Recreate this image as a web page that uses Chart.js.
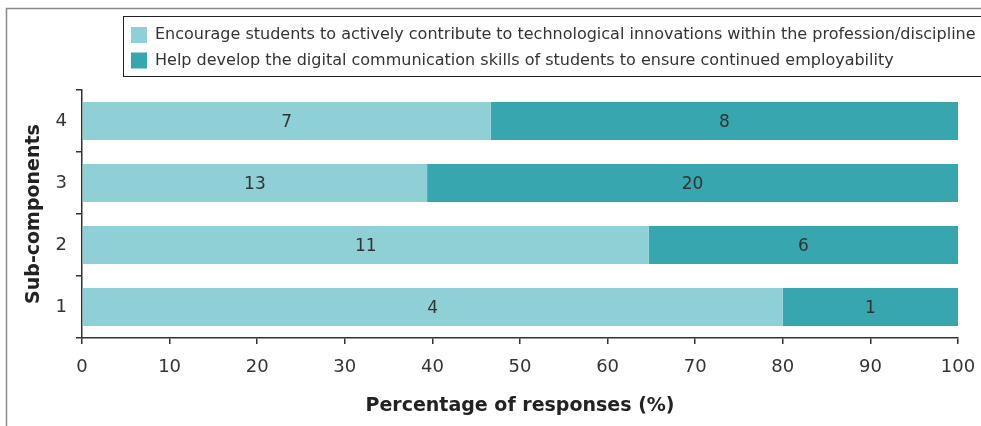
<!DOCTYPE html>
<html>
<head>
<meta charset="utf-8">
<script src="https://cdn.jsdelivr.net/npm/chart.js@4.4.1/dist/chart.umd.min.js"></script>
<style>
  html, body { margin: 0; padding: 0; background: #fff; }
  #wrap { width: 981px; height: 426px; position: relative; }
</style>
</head>
<body>
<div id="wrap"><canvas id="c" width="981" height="426"></canvas></div>
<script>
// Sub-components, listed top to bottom
const categories = ['4', '3', '2', '1'];
// Number of responses per sub-component
const encourageCounts = [7, 13, 11, 4];
const developCounts = [8, 20, 6, 1];
const seriesLabels = [
  'Encourage students to actively contribute to technological innovations within the profession/discipline',
  'Help develop the digital communication skills of students to ensure continued employability'
];
const xTicks = [0, 10, 20, 30, 40, 50, 60, 70, 80, 90, 100];

const LIGHT = '#8fd0d6';
const DARK = '#37a6af';
const TEXT = '#333333';
const FONT = "'DejaVu Sans', sans-serif";

// Share of responses (%) for each series
const totals = categories.map((_, i) => encourageCounts[i] + developCounts[i]);
const encouragePct = encourageCounts.map((v, i) => v / totals[i] * 100);
const developPct = developCounts.map((v, i) => v / totals[i] * 100);

// Outer frame and the boxed legend
const framePlugin = {
  id: 'frame',
  beforeDraw(chart) {
    const ctx = chart.ctx;
    ctx.save();
    ctx.strokeStyle = '#8a8a8a';
    ctx.lineWidth = 1.5;
    ctx.beginPath();
    ctx.moveTo(6.5, 426);
    ctx.lineTo(6.5, 8.5);
    ctx.lineTo(981, 8.5);
    ctx.stroke();
    ctx.restore();
  },
  afterDraw(chart) {
    const ctx = chart.ctx;
    ctx.save();
    ctx.strokeStyle = '#222';
    ctx.lineWidth = 1;
    ctx.strokeRect(123.5, 16.5, 1000, 60);
    const colors = [LIGHT, DARK];
    ctx.font = "16px " + FONT;
    ctx.textBaseline = 'middle';
    ctx.textAlign = 'left';
    seriesLabels.forEach((lbl, i) => {
      const cy = 35 + i * 25.5;
      ctx.fillStyle = colors[i];
      ctx.fillRect(131, cy - 8, 16, 16);
      ctx.fillStyle = TEXT;
      ctx.fillText(lbl, 155, cy);
    });
    ctx.restore();
  }
};

// Count labels in the middle of each bar segment
const countLabels = {
  id: 'countLabels',
  afterDatasetsDraw(chart) {
    const ctx = chart.ctx;
    const counts = [encourageCounts, developCounts];
    ctx.save();
    ctx.font = "17px " + FONT;
    ctx.fillStyle = TEXT;
    ctx.textAlign = 'center';
    ctx.textBaseline = 'middle';
    chart.data.datasets.forEach((ds, di) => {
      chart.getDatasetMeta(di).data.forEach((bar, i) => {
        const p = bar.getProps(['x', 'y', 'base'], true);
        ctx.fillText(String(counts[di][i]), (p.x + p.base) / 2, p.y + 1.5);
      });
    });
    ctx.restore();
  }
};

new Chart(document.getElementById('c'), {
  type: 'bar',
  data: {
    labels: categories,
    datasets: [
      { label: seriesLabels[0], data: encouragePct, backgroundColor: LIGHT,
        barPercentage: 0.61, categoryPercentage: 1 },
      { label: seriesLabels[1], data: developPct, backgroundColor: DARK,
        barPercentage: 0.61, categoryPercentage: 1 }
    ]
  },
  options: {
    indexAxis: 'y',
    responsive: false,
    animation: false,
    devicePixelRatio: 1,
    layout: { padding: { top: 90, right: 23, left: 0, bottom: 0 } },
    plugins: { legend: { display: false }, tooltip: { enabled: false } },
    scales: {
      x: {
        stacked: true,
        min: 0, max: 100,
        afterBuildTicks(scale) { scale.ticks = xTicks.map(v => ({ value: v })); },
        afterFit(scale) {
          scale.height = 88;
          scale.paddingLeft = 0;
          scale.paddingRight = 0;
        },
        border: { display: true, color: '#333', width: 1.5 },
        grid: { display: true, drawOnChartArea: false, drawTicks: true, tickLength: 6,
                color: '#333', lineWidth: 1.5 },
        ticks: { color: TEXT, font: { family: FONT, size: 18 }, padding: 13, maxRotation: 0 },
        title: { display: true, text: 'Percentage of responses (%)', color: '#222',
                 font: { family: FONT, size: 19, weight: 'bold' }, padding: { top: 0, bottom: 9 } }
      },
      y: {
        stacked: true,
        afterFit(scale) { scale.width = 82; },
        border: { display: true, color: '#333', width: 1.5 },
        grid: { display: true, offset: true, drawOnChartArea: false, drawTicks: true, tickLength: 6,
                color: '#333', lineWidth: 1.5 },
        ticks: { color: TEXT, font: { family: FONT, size: 18 }, padding: 9 },
        title: { display: true, text: 'Sub-components', color: '#222',
                 font: { family: FONT, size: 19, weight: 'bold' }, padding: { top: 23, bottom: 0 } }
      }
    }
  },
  plugins: [framePlugin, countLabels]
});
</script>
</body>
</html>
